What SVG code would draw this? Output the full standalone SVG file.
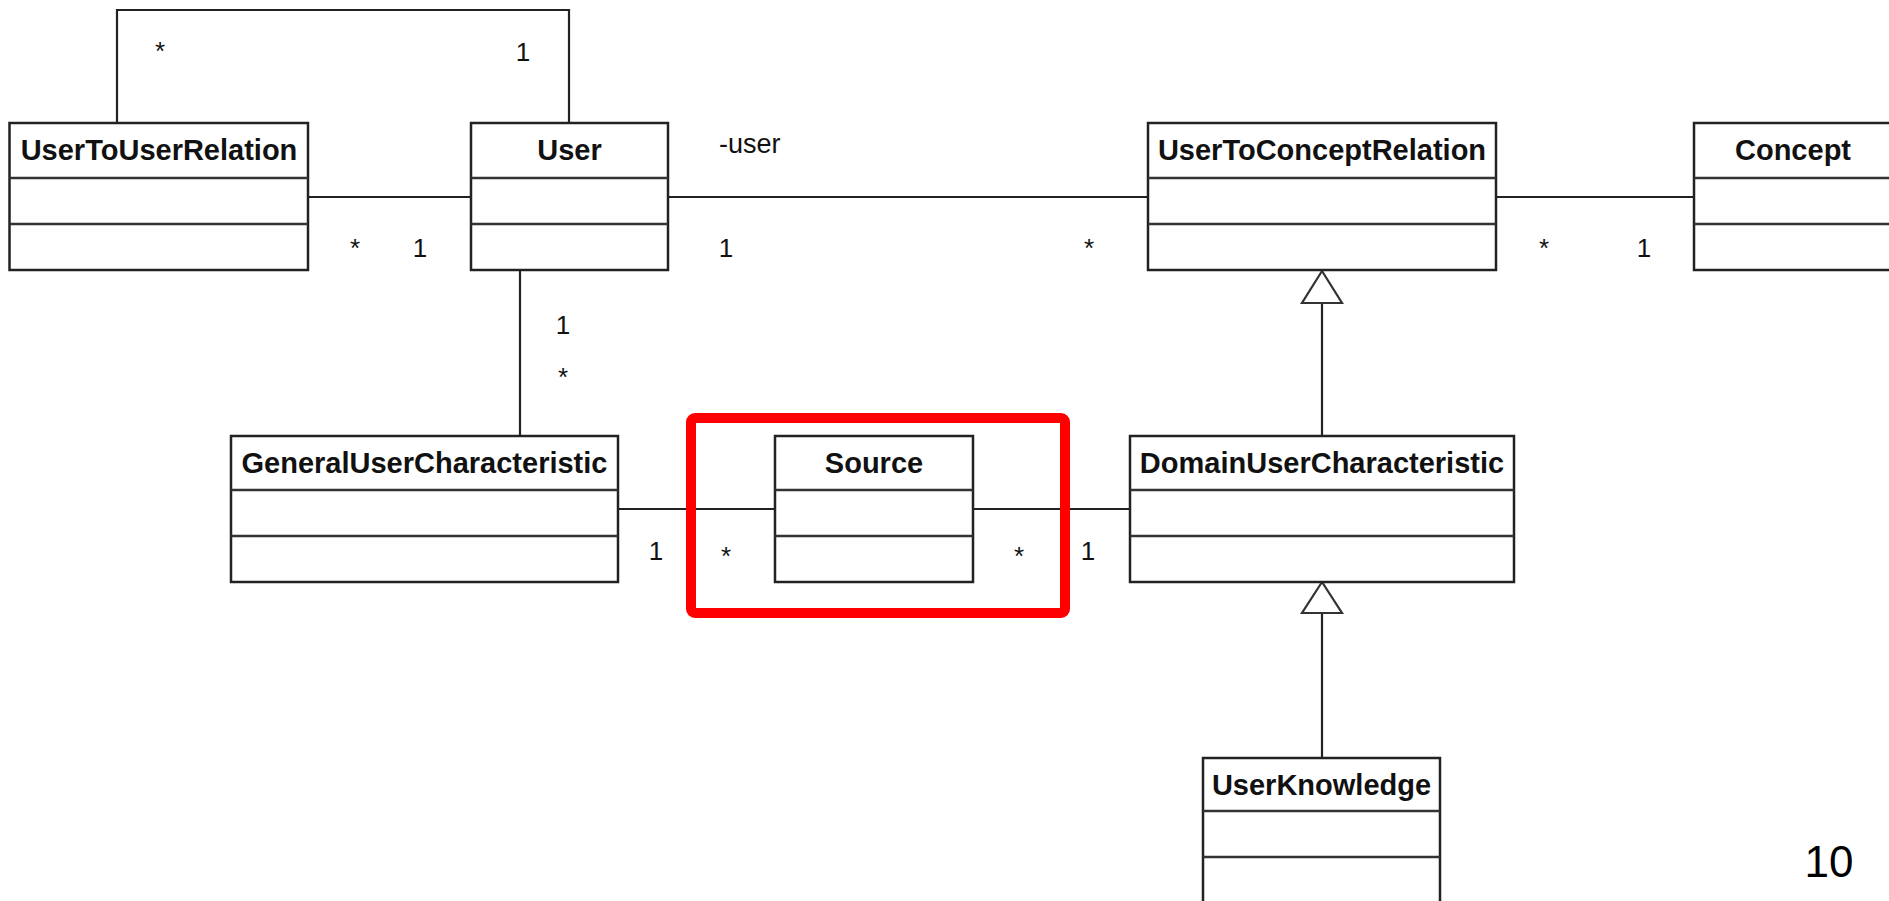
<svg xmlns="http://www.w3.org/2000/svg" width="1889" height="901" viewBox="0 0 1889 901">
<style>
.box{fill:#fff;stroke:#222;stroke-width:2.5}
.div{stroke:#333;stroke-width:2.5}
.name{font-family:"Liberation Sans",Arial,sans-serif;font-weight:bold;font-size:29px;text-anchor:middle;fill:#111}
.lbl{font-family:"Liberation Sans",Arial,sans-serif;font-size:26px;fill:#111;text-anchor:middle}
.ln{stroke:#222;stroke-width:2.2;fill:none}
.tri{fill:#fff;stroke:#333;stroke-width:2.2}
</style>
<rect width="1889" height="901" fill="#fff"/>
<g id="connectors">
<polyline class="ln" points="117,123 117,10 569,10 569,123"/>
<line class="ln" x1="308" y1="197" x2="471" y2="197"/>
<line class="ln" x1="668" y1="197" x2="1148" y2="197"/>
<line class="ln" x1="1496" y1="197" x2="1694" y2="197"/>
<line class="ln" x1="520" y1="270" x2="520" y2="436"/>
<line class="ln" x1="618" y1="509" x2="775" y2="509"/>
<line class="ln" x1="973" y1="509" x2="1130" y2="509"/>
<line class="ln" x1="1322" y1="303" x2="1322" y2="436"/>
<polygon class="tri" points="1322,271 1302,303 1342,303"/>
<line class="ln" x1="1322" y1="613" x2="1322" y2="758"/>
<polygon class="tri" points="1322,582 1302,613 1342,613"/>
<text class="lbl" x="160" y="60">*</text>
<text class="lbl" x="523" y="61">1</text>
<text class="lbl" x="355" y="257">*</text>
<text class="lbl" x="420" y="257">1</text>
<text class="lbl" x="719" y="153" style="text-anchor:start;font-size:27px">-user</text>
<text class="lbl" x="726" y="257">1</text>
<text class="lbl" x="1089" y="257">*</text>
<text class="lbl" x="1544" y="257">*</text>
<text class="lbl" x="1644" y="257">1</text>
<text class="lbl" x="563" y="334">1</text>
<text class="lbl" x="563" y="386">*</text>
<text class="lbl" x="656" y="560">1</text>
<text class="lbl" x="726" y="565">*</text>
<text class="lbl" x="1019" y="565">*</text>
<text class="lbl" x="1088" y="560">1</text>
</g>
<g id="UserToUserRelation">
<rect class="box" x="9.5" y="123" width="298.5" height="147"/>
<line class="div" x1="9.5" y1="178" x2="308" y2="178"/>
<line class="div" x1="9.5" y1="224" x2="308" y2="224"/>
<text class="name" x="159" y="160">UserToUserRelation</text>
</g>
<g id="User">
<rect class="box" x="471" y="123" width="197" height="147"/>
<line class="div" x1="471" y1="178" x2="668" y2="178"/>
<line class="div" x1="471" y1="224" x2="668" y2="224"/>
<text class="name" x="569.5" y="160">User</text>
</g>
<g id="UserToConceptRelation">
<rect class="box" x="1148" y="123" width="348" height="147"/>
<line class="div" x1="1148" y1="178" x2="1496" y2="178"/>
<line class="div" x1="1148" y1="224" x2="1496" y2="224"/>
<text class="name" x="1322" y="160">UserToConceptRelation</text>
</g>
<g id="Concept">
<rect class="box" x="1694" y="123" width="200" height="147"/>
<line class="div" x1="1694" y1="178" x2="1894" y2="178"/>
<line class="div" x1="1694" y1="224" x2="1894" y2="224"/>
<text class="name" x="1793" y="160">Concept</text>
</g>
<g id="GeneralUserCharacteristic">
<rect class="box" x="231" y="436" width="387" height="146"/>
<line class="div" x1="231" y1="490" x2="618" y2="490"/>
<line class="div" x1="231" y1="536" x2="618" y2="536"/>
<text class="name" x="424.5" y="473">GeneralUserCharacteristic</text>
</g>
<g id="Source">
<rect class="box" x="775" y="436" width="198" height="146"/>
<line class="div" x1="775" y1="490" x2="973" y2="490"/>
<line class="div" x1="775" y1="536" x2="973" y2="536"/>
<text class="name" x="874" y="473">Source</text>
</g>
<g id="DomainUserCharacteristic">
<rect class="box" x="1130" y="436" width="384" height="146"/>
<line class="div" x1="1130" y1="490" x2="1514" y2="490"/>
<line class="div" x1="1130" y1="536" x2="1514" y2="536"/>
<text class="name" x="1322" y="473">DomainUserCharacteristic</text>
</g>
<g id="UserKnowledge">
<rect class="box" x="1203" y="758" width="237" height="146"/>
<line class="div" x1="1203" y1="811" x2="1440" y2="811"/>
<line class="div" x1="1203" y1="857" x2="1440" y2="857"/>
<text class="name" x="1321.5" y="795">UserKnowledge</text>
</g>
<g id="highlight">
<rect x="691" y="418" width="374" height="195" rx="4" fill="none" stroke="#f00" stroke-width="10"/>
</g>
<text x="1829" y="877" font-family="'Liberation Sans',Arial,sans-serif" font-size="44" text-anchor="middle" fill="#000">10</text>
</svg>
